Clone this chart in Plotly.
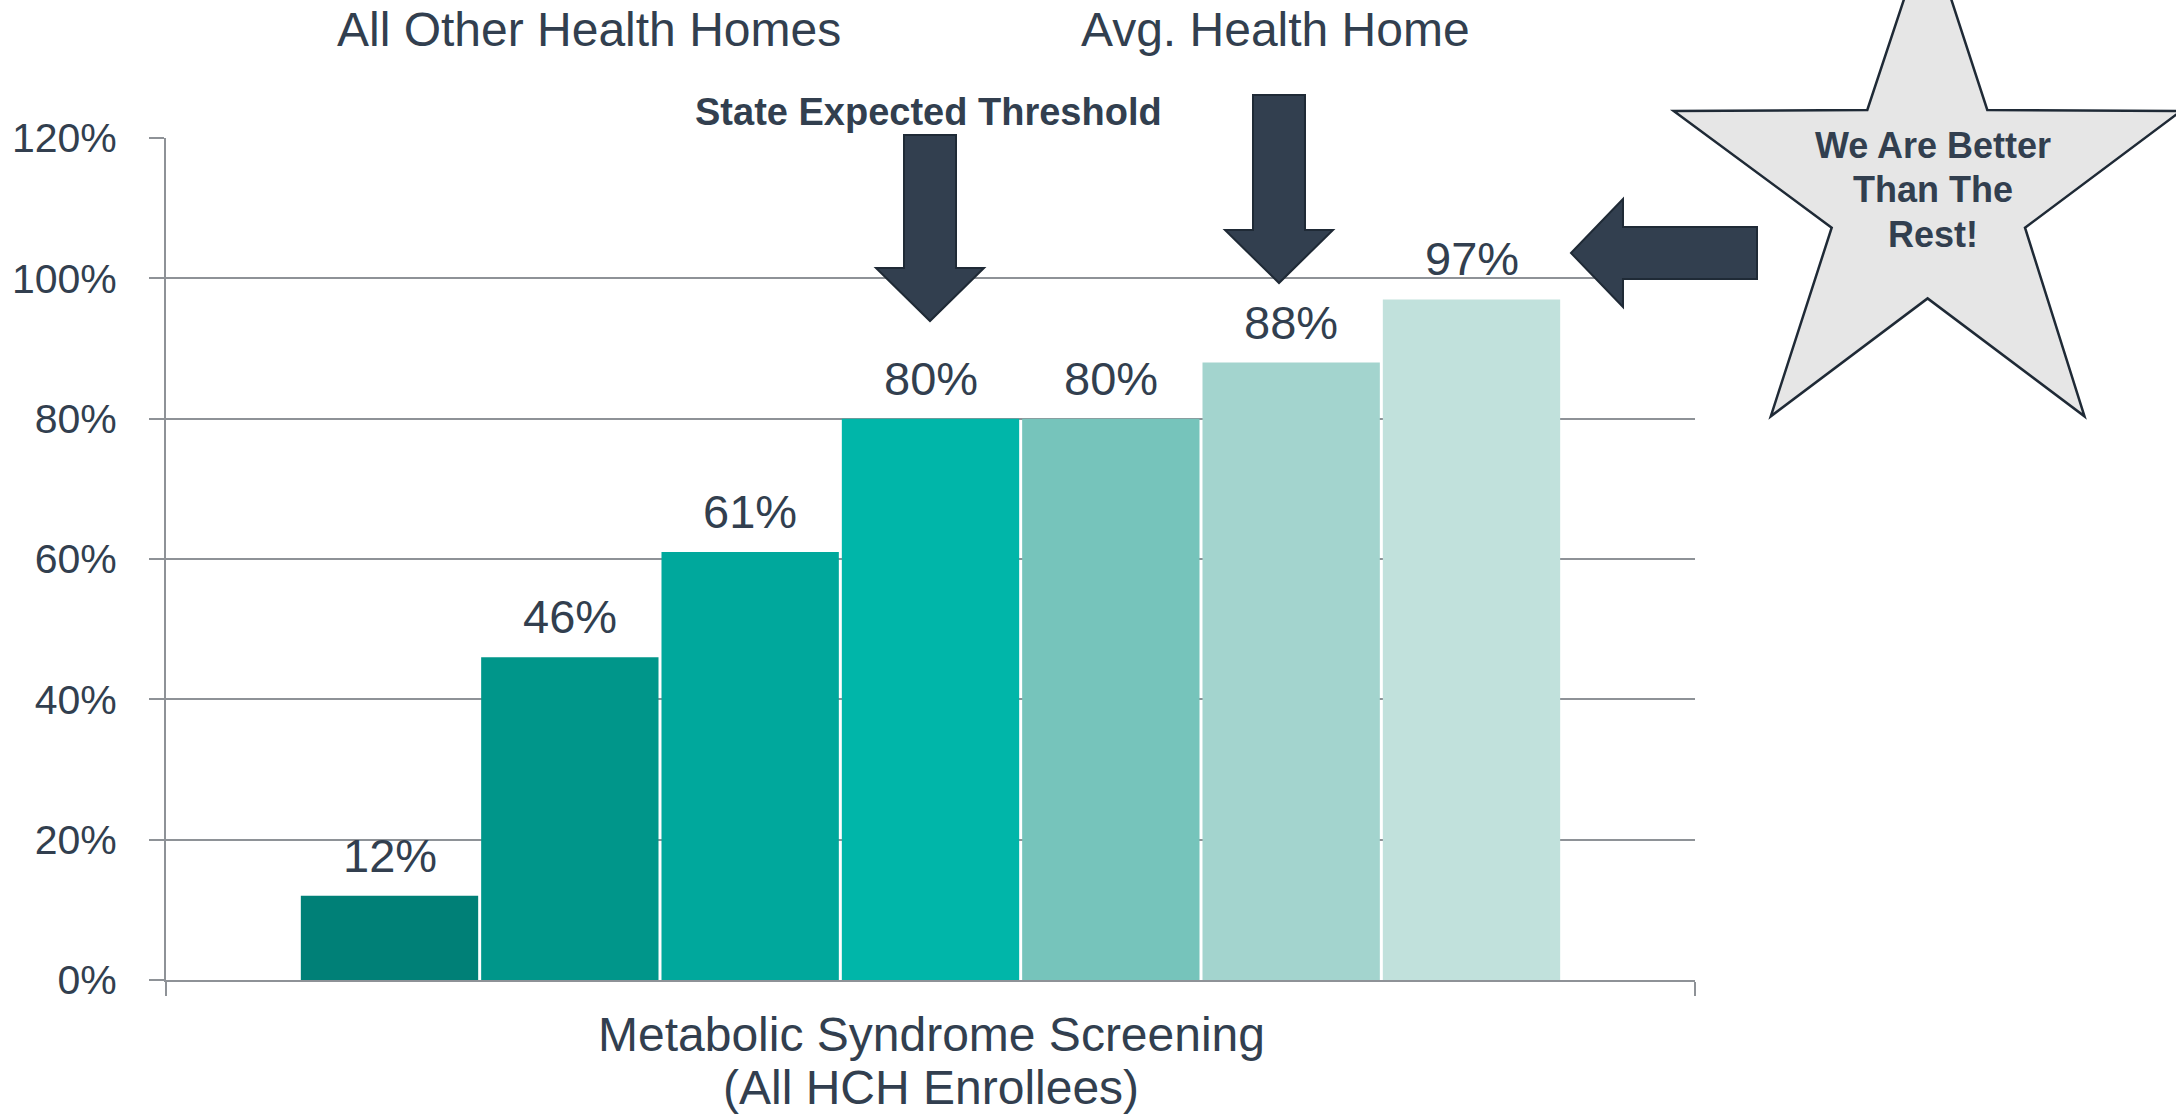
import plotly.graph_objects as go

# Metabolic syndrome screening rates, one bar per health home (lowest to highest)
series_names = [
    "Health Home A", "Health Home B", "Health Home C",
    "State Expected Threshold", "Health Home D", "Avg. Health Home", "Our Health Home",
]
values = [0.12, 0.46, 0.61, 0.80, 0.80, 0.88, 0.97]
bar_colors = ["#008077", "#00968A", "#00A89C", "#00B6A9", "#76C4BB", "#A3D4CE", "#C1E1DC"]
category_lines = ["Metabolic Syndrome Screening", "(All HCH Enrollees)"]
y_ticks = [0, 0.2, 0.4, 0.6, 0.8, 1.0, 1.2]

TEXT = "#323F4F"
GRID = "#8E9297"
ARROW_FILL = "#323F4F"
ARROW_LINE = "#1F2A36"
FONT = "Liberation Sans, Arial, sans-serif"

W, H = 2176, 1116
ML, MR, MT, MB = 166, 481, 138, 136
PW, PH = W - ML - MR, H - MT - MB


def px(x, y):
    """Convert figure pixel position to paper coordinates."""
    return (x - ML) / PW, 1 - (y - MT) / PH


def path(points):
    pts = [px(x, y) for x, y in points]
    return "M " + " L ".join(f"{a:.5f},{b:.5f}" for a, b in pts) + " Z"


# Bars share one category slot; split it into equal sub-slots
n = len(values)
group_width = 0.8256
slot = group_width / n
bar_width = slot * (1 - 0.0166)
centers = [-group_width / 2 + slot * (i + 0.5) for i in range(n)]

fig = go.Figure()
fig.add_trace(go.Bar(
    x=centers,
    y=values,
    width=bar_width,
    marker=dict(color=bar_colors, line=dict(width=0)),
    customdata=series_names,
    hovertemplate="%{customdata}: %{y:.0%}<extra></extra>",
    showlegend=False,
))

annotations = []
for xc, v in zip(centers, values):
    annotations.append(dict(
        x=xc, y=v, xref="x", yref="y", text=f"{v:.0%}", showarrow=False,
        xanchor="center", yanchor="bottom", yshift=12,
        font=dict(family=FONT, size=47, color=TEXT),
    ))


def label(x, y, text, size, bold=False):
    ax, ay = px(x, y)
    annotations.append(dict(
        x=ax, y=ay, xref="paper", yref="paper", showarrow=False,
        text=f"<b>{text}</b>" if bold else text,
        xanchor="center", yanchor="middle",
        font=dict(family=FONT, size=size, color=TEXT),
    ))


label(588.7, 29.5, "All Other Health Homes", 48)
label(1275.5, 29.5, "Avg. Health Home", 48)
label(928, 112, "State Expected Threshold", 38, bold=True)
for y, line in zip([145.3, 189.7, 234.3], ["We Are Better", "Than The", "Rest!"]):
    label(1932.5, y, line, 36, bold=True)

# category name under the axis, two lines
for y, line in zip([1034, 1087], category_lines):
    label(931, y, line, 48)

shapes = []


def down_arrow(cx, top, shoulder, tip, shaft_half, head_half):
    return [
        (cx - shaft_half, top), (cx + shaft_half, top), (cx + shaft_half, shoulder),
        (cx + head_half, shoulder), (cx, tip), (cx - head_half, shoulder),
        (cx - shaft_half, shoulder),
    ]


arrows = [
    down_arrow(930, 135, 268, 321, 26, 54),
    down_arrow(1279, 95, 230, 283, 26, 54),
    [(1571, 253), (1623, 199), (1623, 227), (1757, 227), (1757, 279), (1623, 279), (1623, 307)],
]
for pts in arrows:
    shapes.append(dict(
        type="path", xref="paper", yref="paper", path=path(pts),
        fillcolor=ARROW_FILL, line=dict(color=ARROW_LINE, width=2), layer="above",
    ))

star = [
    (1927.8, -72.6), (1987.3, 110), (2181, 111), (2025, 227.7), (2084.5, 416.3),
    (1927.6, 298.4), (1770.8, 416.3), (1831.7, 227.7), (1673.7, 111), (1867.3, 110),
]
shapes.append(dict(
    type="path", xref="paper", yref="paper", path=path(star),
    fillcolor="#E6E6E6", line=dict(color=ARROW_LINE, width=2.5), layer="below",
))

fig.update_layout(
    width=W, height=H,
    margin=dict(l=ML, r=MR, t=MT, b=MB, pad=0, autoexpand=False),
    paper_bgcolor="white", plot_bgcolor="white",
    font=dict(family=FONT, color=TEXT),
    annotations=annotations,
    shapes=shapes,
    hovermode="closest",
)

fig.update_xaxes(
    range=[-0.5, 0.5], automargin=False,
    tickmode="array", tickvals=[0], ticktext=[""],
    ticks="", showgrid=False, zeroline=False,
    showline=True, linecolor=GRID, linewidth=2,
    minor=dict(tickmode="array", tickvals=[-0.5, 0.5], ticks="outside",
               ticklen=14, tickwidth=2, tickcolor=GRID, showgrid=False),
    fixedrange=True,
)
fig.update_yaxes(
    range=[0, 1.2], automargin=False,
    tickmode="array", tickvals=y_ticks, tickformat=".0%",
    ticks="outside", ticklen=15, tickwidth=2, tickcolor=GRID,
    showgrid=True, gridcolor=GRID, gridwidth=2,
    zeroline=False, showline=True, linecolor=GRID, linewidth=2,
    tickfont=dict(family=FONT, size=41, color=TEXT),
    ticklabelstandoff=24,
    fixedrange=True,
)

fig.write_html("out.html", config={"displayModeBar": False})
